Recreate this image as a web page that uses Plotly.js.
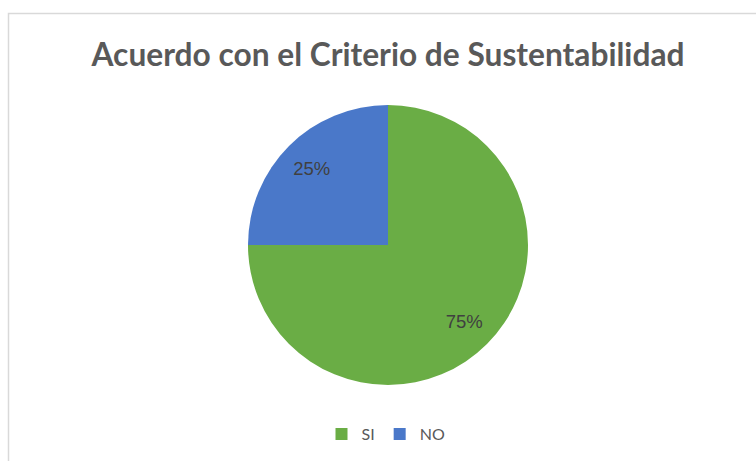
<!DOCTYPE html>
<html><head><meta charset="utf-8">
<script src="https://cdn.plot.ly/plotly-3.0.1.min.js"></script>
<style>html,body{margin:0;padding:0;background:#fff;}#chart{width:756px;height:461px;}</style>
</head><body><div id="chart"></div>
<script>
const categories = ["SI", "NO"];
const values = [75, 25];
const colors = ["#6aad45", "#4a78c9"];

const domain = {x: [248/756, 528/756], y: [1 - 385/461, 1 - 105/461]};

const slices = {
  type: "pie",
  labels: categories,
  values: values,
  sort: false,
  direction: "clockwise",
  rotation: 0,
  marker: {colors: colors, line: {width: 0}},
  textinfo: "none",
  domain: domain,
  hoverinfo: "label+percent"
};

// transparent ring on top that only carries the percentage labels, so they sit further out
const labelsRing = {
  type: "pie",
  labels: categories,
  values: values,
  sort: false,
  direction: "clockwise",
  rotation: 0,
  hole: 0.54,
  marker: {colors: ["rgba(0,0,0,0)", "rgba(0,0,0,0)"], line: {width: 0}},
  textinfo: "percent",
  texttemplate: "%{percent:.0%}",
  textposition: "inside",
  insidetextorientation: "horizontal",
  textfont: {family: "Liberation Sans, Arial, sans-serif", size: 18.5, color: "#404040"},
  domain: domain,
  showlegend: false,
  hoverinfo: "skip"
};

const layout = {
  width: 756, height: 461,
  margin: {l: 0, r: 0, t: 0, b: 0},
  paper_bgcolor: "#ffffff",
  title: {text: "Acuerdo con el Criterio de Sustentabilidad", x: 388/756, xanchor: "center", y: 1 - 55/461, yanchor: "middle",
          font: {family: "Lato, Open Sans, sans-serif", size: 31.7, color: "#595959", weight: "bold"}},
  showlegend: true,
  legend: {orientation: "h", x: 386/756, xanchor: "center", y: 1 - 434/461, yanchor: "middle",
           font: {family: "Lato, Open Sans, sans-serif", size: 16, color: "#595959"},
           itemwidth: 30, traceorder: "normal"},
  shapes: [{type: "rect", xref: "paper", yref: "paper", x0: 8.5/756, x1: 1.01, y0: -0.01, y1: 1 - 13.5/461,
            line: {color: "#d9d9d9", width: 1.5}, fillcolor: "rgba(0,0,0,0)", layer: "below"}]
};

Plotly.newPlot("chart", [slices, labelsRing], layout, {displayModeBar: false, staticPlot: true});
</script></body></html>
